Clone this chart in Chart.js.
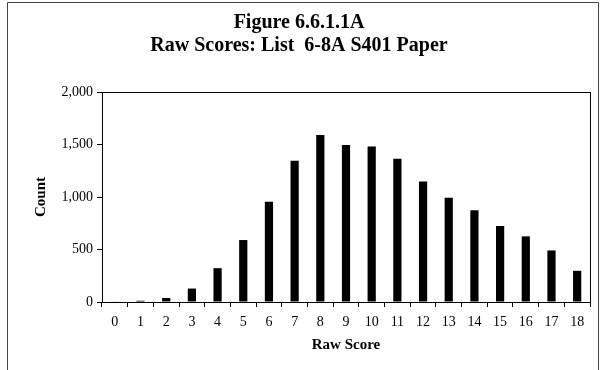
<!DOCTYPE html>
<html>
<head>
<meta charset="utf-8">
<script src="https://cdn.jsdelivr.net/npm/chart.js@4"></script>
<style>
  html, body { margin: 0; padding: 0; background: #fff; }
  #wrap { position: relative; width: 600px; height: 370px; }
</style>
</head>
<body>
<div id="wrap"><canvas id="myChart" width="600" height="370"></canvas></div>
<script>
const titleLines = ["Figure 6.6.1.1A", "Raw Scores: List  6-8A S401 Paper"];
const scores = ["0", "1", "2", "3", "4", "5", "6", "7", "8", "9", "10", "11", "12", "13", "14", "15", "16", "17", "18"];
const counts = [4, 12, 38, 128, 322, 590, 954, 1346, 1591, 1496, 1480, 1365, 1148, 992, 874, 724, 625, 491, 297];
const yTicks = [0, 500, 1000, 1500, 2000];

const serif = "'Liberation Serif', 'Times New Roman', serif";

// frame round the whole chart + box round the plot area
const framePlugin = {
  id: "frame",
  beforeDraw(chart) {
    const ctx = chart.ctx;
    ctx.save();
    ctx.fillStyle = "#fff";
    ctx.fillRect(0, 0, chart.width, chart.height);
    ctx.strokeStyle = "#444";
    ctx.lineWidth = 1;
    ctx.beginPath();
    ctx.moveTo(7.5, 370);
    ctx.lineTo(7.5, 2.5);
    ctx.lineTo(598.5, 2.5);
    ctx.lineTo(598.5, 370);
    ctx.stroke();
    ctx.restore();
  },
  afterDraw(chart) {
    const a = chart.chartArea;
    const ctx = chart.ctx;
    ctx.save();
    ctx.strokeStyle = "#000";
    ctx.lineWidth = 1;
    ctx.strokeRect(Math.round(a.left) + 0.5, Math.round(a.top) + 0.5,
      Math.round(a.right - a.left), Math.round(a.bottom - a.top));
    ctx.restore();
  }
};

new Chart("myChart", {
  type: "bar",
  data: {
    labels: scores,
    datasets: [{
      data: counts,
      backgroundColor: "#000",
      borderWidth: 0,
      barPercentage: 0.32,
      categoryPercentage: 1
    }]
  },
  options: {
    responsive: false,
    animation: false,
    layout: { padding: { left: 8, right: 10, top: 0, bottom: 0 } },
    plugins: {
      legend: { display: false },
      tooltip: { enabled: false },
      title: {
        display: true,
        text: titleLines,
        color: "#000",
        font: { family: serif, size: 20, weight: "bold", lineHeight: 1.15 },
        padding: { top: 11, bottom: 35 }
      }
    },
    scales: {
      x: {
        grid: { drawOnChartArea: false, tickLength: 5, color: "#000", offset: true },
        border: { color: "#000" },
        ticks: { color: "#000", font: { family: serif, size: 14 }, padding: 7, maxRotation: 0 },
        title: {
          display: true,
          text: "Raw Score",
          color: "#000",
          font: { family: serif, size: 15, weight: "bold" },
          padding: { top: 0, bottom: 16 }
        },
        afterFit(scale) { scale.height = 68; }
      },
      y: {
        min: 0,
        max: 2000,
        afterBuildTicks(scale) { scale.ticks = yTicks.map(v => ({ value: v })); },
        grid: { drawOnChartArea: false, tickLength: 5, color: "#000" },
        border: { color: "#000" },
        ticks: {
          color: "#000",
          font: { family: serif, size: 14 },
          padding: 4,
          callback: v => v.toLocaleString("en-US")
        },
        title: {
          display: true,
          text: "Count",
          color: "#000",
          font: { family: serif, size: 15, weight: "bold" },
          padding: { top: 24, bottom: 0 }
        },
        afterFit(scale) { scale.width = 94; }
      }
    }
  },
  plugins: [framePlugin]
});
</script>
</body>
</html>
